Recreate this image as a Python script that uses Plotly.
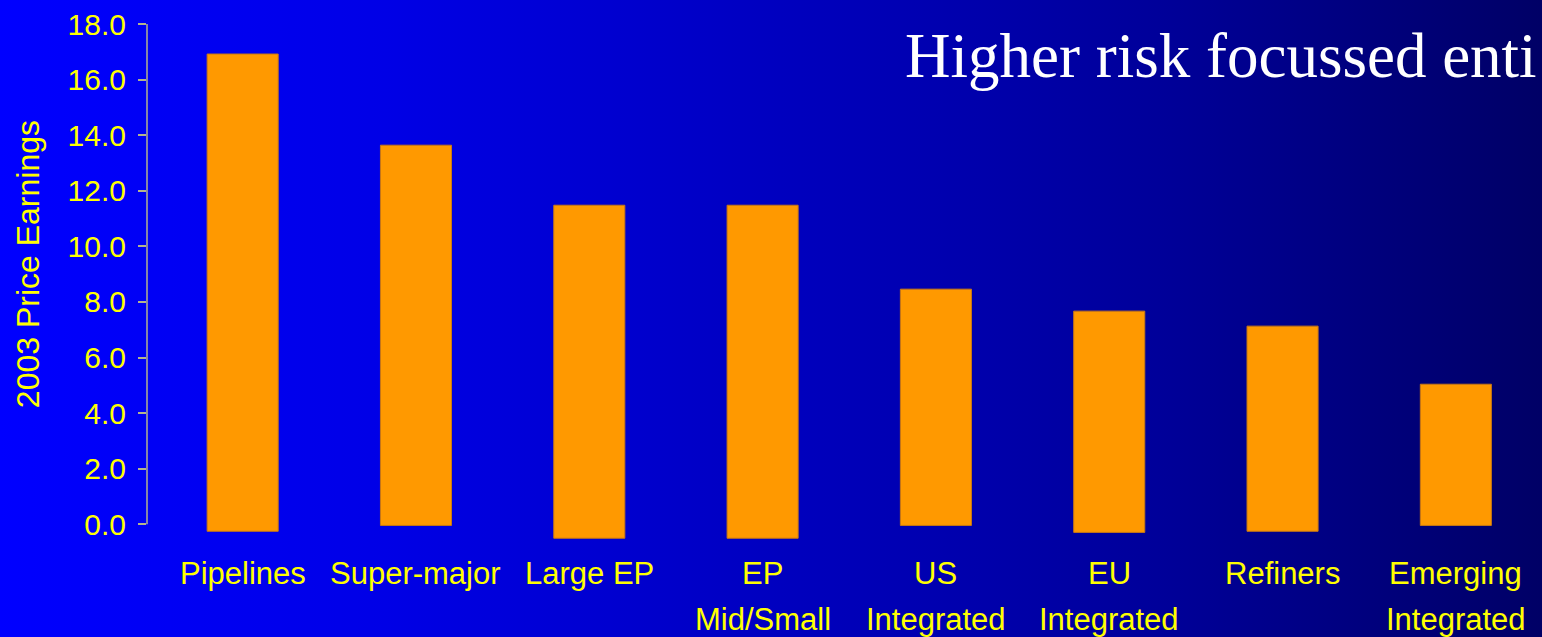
import base64
import plotly.graph_objects as go

# ---- data ----
categories = ["Pipelines", "Super-major", "Large EP", "EP<br>Mid/Small", "US<br>Integrated",
              "EU<br>Integrated", "Refiners", "Emerging<br>Integrated"]
pe_2003 = [16.92, 13.64, 11.48, 11.48, 8.46, 7.67, 7.13, 5.04]
bar_bases = [-0.25, -0.04, -0.5, -0.5, -0.04, -0.29, -0.25, -0.04]
y_ticks = [0, 2, 4, 6, 8, 10, 12, 14, 16, 18]
y_title = "2003 Price Earnings"
headline = "Higher risk focussed enti"

W, H = 1542, 637
ML, MR, MT = 147, 0, 24
Y_LO, Y_HI = -0.6, 18.0
PX_PER_UNIT = 500 / 18.0
plot_h = (Y_HI - Y_LO) * PX_PER_UNIT
MB = H - MT - plot_h
plot_w = W - ML - MR

def px_x(px):
    return (px - ML) / plot_w

def px_y(py):
    return 1 - (py - MT) / plot_h

x_idx = list(range(len(categories)))
heights = [v - b for v, b in zip(pe_2003, bar_bases)]

fig = go.Figure()
fig.add_trace(go.Bar(
    x=x_idx, y=heights, base=bar_bases, width=0.41,
    marker=dict(color="#FF9900", line=dict(color="#C87814", width=1)),
    hoverinfo="skip", showlegend=False,
))

# gradient background
svg = ('<svg xmlns="http://www.w3.org/2000/svg" width="1542" height="637" preserveAspectRatio="none">'
       '<defs><linearGradient id="g" x1="0" y1="0" x2="1" y2="0">'
       '<stop offset="0" stop-color="#0000FF"/><stop offset="0.25" stop-color="#0000E6"/>'
       '<stop offset="0.5" stop-color="#0000C0"/><stop offset="0.75" stop-color="#00009A"/>'
       '<stop offset="1" stop-color="#000066"/></linearGradient></defs>'
       '<rect width="1542" height="637" fill="url(#g)"/></svg>')
src = "data:image/svg+xml;base64," + base64.b64encode(svg.encode()).decode()
fig.add_layout_image(dict(source=src, xref="paper", yref="paper",
                          x=px_x(0), y=px_y(0), sizex=W / plot_w, sizey=H / plot_h,
                          sizing="stretch", xanchor="left", yanchor="top", layer="below"))

annotations = []
for i, lab in enumerate(categories):
    for j, line in enumerate(lab.split("<br>")):
        annotations.append(dict(x=i, xref="x", y=px_y(573 + 46 * j), yref="paper",
                                text=line, showarrow=False, xanchor="center", yanchor="middle",
                                font=dict(family="Liberation Sans, Arial", size=31, color="#FFFF00")))
annotations.append(dict(x=px_x(28), xref="paper", y=px_y(264), yref="paper", text=y_title,
                        textangle=-90, showarrow=False, xanchor="center", yanchor="middle",
                        font=dict(family="Liberation Sans, Arial", size=32, color="#FFFF00")))
annotations.append(dict(x=px_x(903), xref="paper", y=px_y(56), yref="paper", text=headline,
                        showarrow=False, xanchor="left", yanchor="middle",
                        font=dict(family="Liberation Serif, Times New Roman", size=63, color="#FFFFFF")))

fig.add_shape(type="line", xref="paper", x0=0, x1=0, yref="y", y0=0, y1=18,
              line=dict(color="#B4B48C", width=1.5))

fig.update_layout(
    width=W, height=H,
    margin=dict(l=ML, r=MR, t=MT, b=MB, pad=0),
    paper_bgcolor="#0000B0", plot_bgcolor="rgba(0,0,0,0)",
    annotations=annotations,
    xaxis=dict(range=[-0.552, 7.497], showticklabels=False, showgrid=False, zeroline=False,
               showline=False, ticks=""),
    yaxis=dict(range=[Y_LO, Y_HI], tickvals=y_ticks, ticktext=[f"{v:.1f}" for v in y_ticks],
               ticks="outside", ticklen=8, tickcolor="#B4B48C", tickwidth=1.5,
               showgrid=False, zeroline=False, showline=False, ticklabelstandoff=6,
               tickfont=dict(family="Liberation Sans, Arial", size=30, color="#FFFF00")),
)

fig.write_html("out.html", config={"displayModeBar": False},
               post_script="document.body.style.margin='0';document.body.style.overflow='hidden';")
